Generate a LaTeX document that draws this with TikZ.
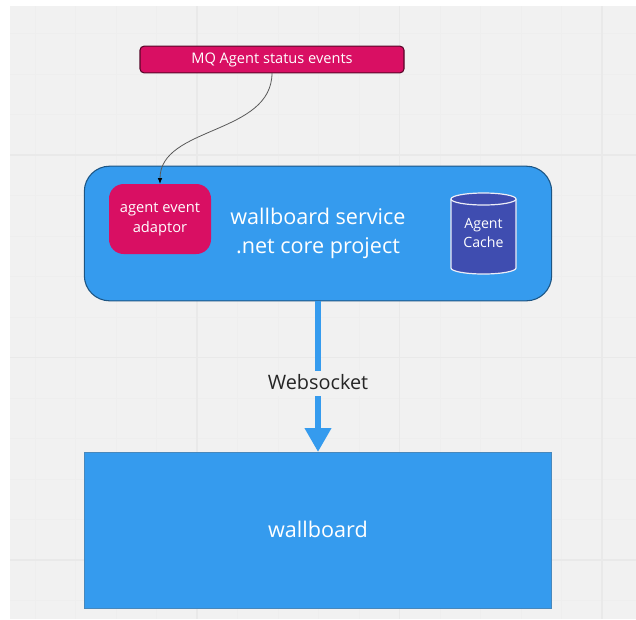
\documentclass[tikz,border=0pt]{standalone}
\usepackage{fontspec}
\setmainfont{Open Sans}
\usetikzlibrary{arrows.meta}
\definecolor{canvasbg}{HTML}{F1F1F1}
\definecolor{gridminor}{HTML}{EEEEEE}
\definecolor{gridmajor}{HTML}{E9E9E9}
\definecolor{blueA}{HTML}{359BEE}
\definecolor{pinkA}{HTML}{D90F63}
\definecolor{indigoA}{HTML}{3F4DB0}
\tikzset{
  pxbox/.style={inner sep=0pt,outer sep=0pt,align=center,text=white},
  bluebox/.style={pxbox,fill=blueA,minimum width=350.5pt},
  pinkbox/.style={pxbox,fill=pinkA},
  cylline/.style={draw=white!90!indigoA,line width=0.9pt},
  wire/.style={draw=black!65,line width=0.6pt,-{Latex[length=4.5pt,width=3.5pt,black]}},
  bigarrow/.style={draw=blueA,line width=4.6pt,-{Triangle[length=18pt,width=19pt]}},
}
\begin{document}
\begin{tikzpicture}[x=0.75pt,y=-0.75pt]
\useasboundingbox (0,0) rectangle (636,619);
\fill[white] (0,0) rectangle (636,619);
\fill[canvasbg] (10,6) rectangle (636,619);
\foreach \i in {-4,...,14} {
  \draw[gridminor,line width=0.75pt] ({197+40.5*\i},6) -- ({197+40.5*\i},619);
}
\foreach \j in {-3,...,11} {
  \draw[gridminor,line width=0.75pt] (10,{155+40.5*\j}) -- (636,{155+40.5*\j});
}
\foreach \i in {0,5,10} {
  \draw[gridmajor,line width=1pt] ({197+40.5*\i},6) -- ({197+40.5*\i},619);
}
\foreach \j in {0,5,10} {
  \draw[gridmajor,line width=1pt] (10,{155+40.5*\j}) -- (636,{155+40.5*\j});
}
\node[pinkbox,draw=black!60!pinkA,line width=0.8pt,rounded corners=3pt,minimum width=198pt,minimum height=20pt,font=\fontsize{10.95pt}{12pt}\selectfont] (mq) at (272,59.5) {MQ Agent status events};
\node[bluebox,draw=black!45!blueA,line width=0.8pt,rounded corners=19pt,minimum height=101pt] (service) at (318,233.5) {};
\node[pinkbox,rounded corners=11pt,minimum width=76.5pt,minimum height=52.5pt,font=\fontsize{11pt}{15pt}\selectfont] (adaptor) at (160,219) {\raisebox{-1.5pt}{agent event}\\\raisebox{-1.5pt}{adaptor}};
\node[pxbox,font=\fontsize{16.2pt}{22pt}\selectfont] (title) at (318,233.5) {wallboard service\\.net core project};
\fill[indigoA] (451,199) arc[start angle=180,end angle=0,x radius=24.4pt,y radius=4.5pt] -- (516,268) arc[start angle=0,end angle=-180,x radius=24.4pt,y radius=4.5pt] -- cycle;
\path[cylline] (451,199) arc[start angle=180,end angle=0,x radius=24.4pt,y radius=4.5pt] -- (516,268) arc[start angle=0,end angle=-180,x radius=24.4pt,y radius=4.5pt] -- cycle;
\path[cylline] (451,199) arc[start angle=180,end angle=360,x radius=24.4pt,y radius=4.5pt];
\node[pxbox,font=\fontsize{10.6pt}{14.5pt}\selectfont] (cachetext) at (483.5,233) {Agent\\Cache};
\node[bluebox,draw=black!10!blueA!70!gray,line width=0.6pt,minimum height=117pt,font=\fontsize{16.2pt}{20pt}\selectfont] (wallboard) at (318,530) {\raisebox{1.5pt}{wallboard}};
\draw[wire] (mq.south) .. controls +(0,62) and +(0,-58) .. (adaptor.north);
\draw[bigarrow] (service.south) -- (wallboard.north);
\node[inner sep=0pt,outer sep=0pt,fill=canvasbg,text=black!85,minimum width=104pt,minimum height=18.5pt,text width=100pt,align=center,font=\fontsize{14.9pt}{16pt}\selectfont] (ws) at (318,383.5) {\raisebox{1.8pt}{Websocket}};
\end{tikzpicture}
\end{document}
